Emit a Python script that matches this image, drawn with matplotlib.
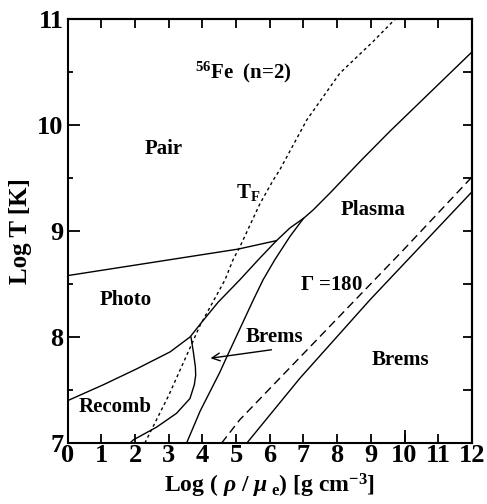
import matplotlib
matplotlib.use('Agg')
import matplotlib.pyplot as plt
from matplotlib.ticker import MultipleLocator, FixedLocator

# ---- data ----
tf_x = [2.29, 3.0, 3.93, 4.12, 4.67, 4.91, 5.11, 5.71, 6.1, 6.3, 7.1, 8.08, 9.07, 9.72]
tf_y = [7.0, 7.45, 8.11, 8.22, 8.54, 8.73, 8.85, 9.26, 9.48, 9.58, 10.05, 10.49, 10.79, 11.0]

pair_x = [0.0, 3.34, 5.06, 6.2]
pair_y = [8.58, 8.745, 8.83, 8.91]

photo_x = [0.0, 1.06, 2.05, 3.04, 3.63, 4.03, 4.47, 5.11, 5.66, 6.2, 6.6, 7.0, 7.29, 7.79, 8.72, 9.56, 12.0]
photo_y = [7.40, 7.55, 7.70, 7.86, 8.0, 8.16, 8.33, 8.54, 8.73, 8.91, 9.03, 9.12, 9.2, 9.36, 9.67, 9.94, 10.69]

recomb_x = [3.66, 3.73, 3.79, 3.80, 3.76, 3.63, 3.23, 2.64, 1.95, 1.85]
recomb_y = [8.0, 7.86, 7.72, 7.64, 7.55, 7.42, 7.28, 7.15, 7.03, 7.0]

brems_x = [3.53, 3.93, 4.52, 4.72, 5.51, 5.8, 6.15, 6.6, 7.0]
brems_y = [7.0, 7.3, 7.67, 7.81, 8.35, 8.54, 8.73, 8.95, 9.12]

gamma_x = [4.57, 5.11, 9.96, 12.0]
gamma_y = [7.0, 7.22, 8.82, 9.51]

right_x = [5.32, 6.89, 8.97, 12.0]
right_y = [7.0, 7.61, 8.35, 9.37]

arrow_tail = (6.05, 7.88)
arrow_head = (4.24, 7.80)

x_ticks = list(range(0, 13))
y_ticks = [7, 8, 9, 10, 11]

labels = [
    (r'$^{56}$Fe  (n=2)', 3.78, 10.5, 'left'),
    ('Pair', 2.86, 9.77, 'center'),
    ('Plasma', 9.07, 9.2, 'center'),
    ('Photo', 1.72, 8.35, 'center'),
    (r'$\Gamma$ =180', 6.9, 8.49, 'left'),
    ('Brems', 6.14, 8.0, 'center'),
    ('Brems', 9.89, 7.78, 'center'),
    ('Recomb', 1.41, 7.34, 'center'),
]

# ---- style ----
plt.rcParams['font.family'] = ['Liberation Serif', 'DejaVu Serif']
plt.rcParams['font.weight'] = 'bold'
plt.rcParams['mathtext.fontset'] = 'custom'
plt.rcParams['mathtext.rm'] = 'Liberation Serif:bold'
plt.rcParams['mathtext.it'] = 'Liberation Serif:italic:bold'
plt.rcParams['mathtext.bf'] = 'Liberation Serif:bold'

fig = plt.figure(figsize=(4.87, 5.04), dpi=100)
ax = fig.add_axes([0.139, 0.121, 0.830, 0.841])

lw = 1.0
ax.plot(tf_x, tf_y, color='k', lw=1.0, dashes=(2.2, 2.2))
ax.plot(pair_x, pair_y, color='k', lw=lw)
ax.plot(photo_x, photo_y, color='k', lw=lw)
ax.plot(recomb_x, recomb_y, color='k', lw=lw)
ax.plot(brems_x, brems_y, color='k', lw=lw)
ax.plot(gamma_x, gamma_y, color='k', lw=lw, dashes=(6, 3.5))
ax.plot(right_x, right_y, color='k', lw=lw)

ax.annotate('', xy=arrow_head, xytext=arrow_tail,
            arrowprops=dict(arrowstyle='->', lw=1.0, color='k', mutation_scale=14,
                            shrinkA=0, shrinkB=0))

for txt, x, y, ha in labels:
    ax.text(x, y, txt, fontsize=15, fontweight='bold', ha=ha, va='center')

ax.text(5.35, 9.36, r'T$_{\rm F}$', fontsize=15, fontweight='bold', ha='center', va='center')

ax.set_xlim(0, 12)
ax.set_ylim(7, 11)

for s in ax.spines.values():
    s.set_linewidth(1.5)

ax.xaxis.set_major_locator(FixedLocator(x_ticks))
ax.xaxis.set_minor_locator(FixedLocator([10]))
ax.xaxis.remove_overlapping_locs = False
ax.yaxis.set_major_locator(FixedLocator(y_ticks))
ax.yaxis.set_minor_locator(MultipleLocator(0.5))

ax.tick_params(axis='x', which='major', direction='in', length=6.5, width=1.3,
               labelsize=19, pad=1.0, top=False)
ax.tick_params(axis='x', which='minor', direction='in', length=9.5, width=1.3, top=False)
ax.tick_params(axis='y', which='major', direction='in', length=8.7, width=1.3,
               labelsize=19, pad=3.0, right=False)
ax.tick_params(axis='y', which='minor', direction='in', length=3.6, width=1.3, right=False)
for lab in ax.get_xticklabels() + ax.get_yticklabels():
    lab.set_fontweight('bold')

sx = ax.secondary_xaxis('top')
sx.set_xticks(x_ticks)
sx.set_xticklabels([])
sx.tick_params(direction='in', length=6.5, width=1.3)
sx.spines['top'].set_linewidth(1.5)

sy = ax.secondary_yaxis('right')
sy.yaxis.set_major_locator(MultipleLocator(0.5))
sy.set_yticklabels([])
sy.tick_params(direction='in', length=6.5, width=1.3)
sy.spines['right'].set_linewidth(1.5)

ax.set_xlabel(r'Log ( $\rho$ / $\mu_{\rm \ e}$) [g cm$^{-3}$]', fontsize=17, fontweight='bold', labelpad=3)
ax.set_ylabel('Log T [K]', fontsize=18, fontweight='bold', labelpad=4)

fig.savefig('out.png', dpi=100)
